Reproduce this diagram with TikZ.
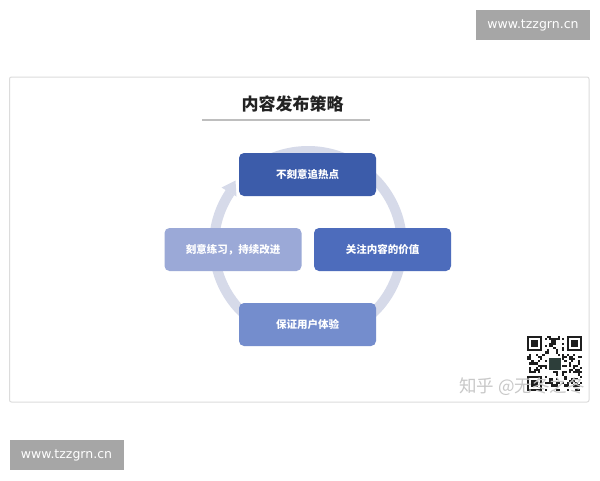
\documentclass[tikz,border=0pt]{standalone}
\usepackage{fontspec}
\usetikzlibrary{calc}
\setmainfont{DejaVu Sans}
\newfontfamily\cjk{Noto Sans CJK SC}
\definecolor{cA}{RGB}{60,92,170}
\definecolor{cB}{RGB}{77,108,188}
\definecolor{cC}{RGB}{116,141,205}
\definecolor{cD}{RGB}{155,169,215}
\definecolor{ringc}{RGB}{214,218,233}
\definecolor{framec}{RGB}{220,220,220}
\definecolor{wmgray}{RGB}{166,166,166}
\definecolor{qrc}{RGB}{30,30,30}
\definecolor{titlec}{RGB}{34,34,34}
\definecolor{linec}{RGB}{190,190,190}
\definecolor{logoc}{RGB}{45,62,58}
\definecolor{zhc}{RGB}{200,200,200}
\tikzset{
  stepbox/.style={rounded corners=5pt, minimum width=137pt, minimum height=43pt, inner sep=0pt,
    text=white, font=\cjk\bfseries\fontsize{10.5}{12}\selectfont},
  wmbox/.style={fill=wmgray, minimum width=114pt, minimum height=30pt, inner sep=0pt,
    text=white, font=\fontsize{12.5}{14}\selectfont}
}
\begin{document}
\begin{tikzpicture}[x=1pt,y=-1pt]
\useasboundingbox (0,0) rectangle (600,480);
\fill[white] (0,0) rectangle (600,480);
% watermarks
\node[wmbox] (wm1) at (533,25) {www.tzzgrn.cn};
\node[wmbox] (wm2) at (66.5,455) {www.tzzgrn.cn};
% frame
\draw[framec, line width=1pt, rounded corners=2pt] (9.5,77) rectangle (589,402);
% title
\node[font=\cjk\bfseries\fontsize{17}{20}\selectfont, text=titlec] (title) at (292.5,104) {内容发布策略};
\draw[linec, line width=2pt] (202,119.5) -- (370,119.5);
% ring
\coordinate (ctr) at (308,245);
\draw[ringc, line width=10pt] ($(ctr)+(226:94)$) arc[start angle=226, end angle=574, radius=94];
\fill[ringc] (221.5,187.5) -- (236.5,196.5) -- (235.5,180.5) -- cycle;
% boxes
\node[stepbox, fill=cA] (n1) at (307.5,174.5) {不刻意追热点};
\node[stepbox, fill=cB] (n2) at (382.5,249.5) {关注内容的价值};
\node[stepbox, fill=cC] (n3) at (307.5,324.5) {保证用户体验};
\node[stepbox, fill=cD] (n4) at (233,249.5) {刻意练习，持续改进};
% QR code
\begin{scope}[shift={(527,336)}]
\foreach \i in {0,...,24}{
  \foreach \j in {0,...,24}{
    \pgfmathtruncatemacro\f{((\i<8)&&(\j<8))||((\i>16)&&(\j<8))||((\i<8)&&(\j>16))}
    \pgfmathtruncatemacro\v{mod(abs(round(1000*sin(\i*97+\j*57+\i*\j*13))),10)}
    \ifnum\f=0 \ifnum\v<5 \fill[qrc] (\i*2.2,\j*2.2) rectangle ++(2.2,2.2); \fi\fi
  }
}
\foreach \a/\b in {0/0,18/0,0/18}{
  \fill[qrc] (\a*2.2,\b*2.2) rectangle ++(15.4,15.4);
  \fill[white] (\a*2.2+2.2,\b*2.2+2.2) rectangle ++(11,11);
  \fill[qrc] (\a*2.2+4.4,\b*2.2+4.4) rectangle ++(6.6,6.6);
}
\fill[white] (20,20) rectangle (35,35);
\fill[logoc] (21.5,21.5) rectangle (33.5,33.5);
\end{scope}
\node[font=\cjk\fontsize{17.5}{20}\selectfont, text=zhc] (zh) at (522,387) {知乎 @无冬之冬};
\end{tikzpicture}
\end{document}
